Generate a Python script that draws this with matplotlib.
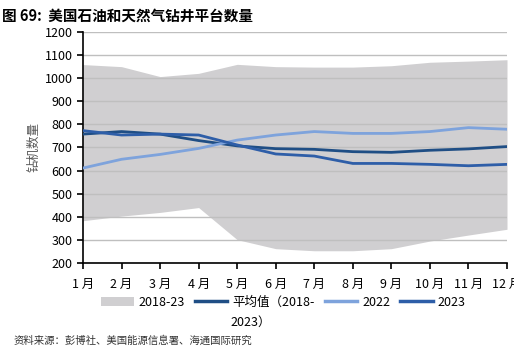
import matplotlib
matplotlib.use("Agg")
import matplotlib.pyplot as plt
from matplotlib.patches import Patch
from matplotlib.lines import Line2D

plt.rcParams['font.family'] = ['Noto Sans CJK SC', 'DejaVu Sans']

months = [1, 2, 3, 4, 5, 6, 7, 8, 9, 10, 11, 12]
month_labels = ["1 月", "2 月", "3 月", "4 月", "5 月", "6 月",
                "7 月", "8 月", "9 月", "10 月", "11 月", "12 月"]

band_high = [1059, 1050, 1007, 1021, 1060, 1050, 1048, 1048, 1054, 1069, 1074, 1080]
band_low = [383, 403, 419, 440, 301, 262, 253, 253, 262, 295, 321, 346]
avg_18_23 = [758, 769, 758, 730, 707, 695, 692, 682, 679, 688, 694, 704]
y2022 = [611, 649, 670, 696, 732, 754, 769, 761, 761, 769, 786, 779]
y2023 = [773, 754, 758, 754, 711, 672, 663, 631, 631, 627, 621, 627]

c_band = "#d0cfd1"
c_avg = "#1f4e85"
c_22 = "#7ea3dc"
c_23 = "#2e5ea8"

fig = plt.figure(figsize=(5.14, 3.62), dpi=100)
ax = fig.add_axes([83 / 514, 1 - 263 / 362, (507 - 83) / 514, (263 - 32) / 362])

ax.set_ylim(200, 1200)
ax.set_xlim(1, 12)
ax.set_yticks(range(200, 1201, 100))
ax.grid(axis='y', color='#bfbfbf', linewidth=1.0, zorder=0)
ax.fill_between(months, band_low, band_high, color=c_band, linewidth=0, zorder=1)
ax.plot(months, avg_18_23, color=c_avg, linewidth=2, zorder=3)
ax.plot(months, y2022, color=c_22, linewidth=2, zorder=3)
ax.plot(months, y2023, color=c_23, linewidth=2, zorder=4)

ax.set_xticks(months)
ax.set_xticklabels(month_labels)
for s in ['top', 'right']:
    ax.spines[s].set_visible(False)
ax.spines['left'].set_linewidth(1.2)
ax.spines['bottom'].set_linewidth(1.2)
ax.tick_params(axis='both', direction='out', length=4, width=1.2, labelsize=9, colors='black')
ax.tick_params(axis='x', pad=7)
ax.set_ylabel("钻机数量", fontsize=9, color='#595959', labelpad=3)

fig.text(0.004, 0.978, "图 69:  美国石油和天然气钻井平台数量", fontsize=10.5, fontweight='bold', va='top')
fig.text(14 / 514, 1 - 341 / 362, "资料来源：彭博社、美国能源信息署、海通国际研究", fontsize=7.5, va='center',
         color='#333333')

handles = [Patch(facecolor=c_band, edgecolor='none'),
           Line2D([], [], color=c_avg, linewidth=2.5),
           Line2D([], [], color=c_22, linewidth=2.5),
           Line2D([], [], color=c_23, linewidth=2.5)]
labels = ["2018-23", "平均值（2018-", "2022", "2023"]
fig.legend(handles, labels, ncol=4, loc='center left', bbox_to_anchor=(96 / 514, 1 - 302 / 362),
           frameon=False, fontsize=9, handlelength=2.6, handletextpad=0.4, columnspacing=0.8,
           borderaxespad=0)
fig.text(230 / 514, 1 - 322 / 362, "2023）", fontsize=9, va='center')

fig.savefig("out.png", dpi=100)
